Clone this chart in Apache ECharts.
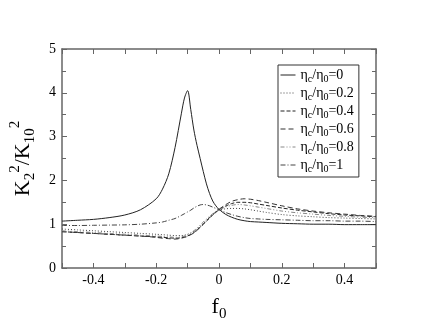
<!DOCTYPE html>
<html>
<head>
<meta charset="utf-8">
<script src="https://cdn.jsdelivr.net/npm/echarts@6/dist/echarts.min.js"></script>
<style>
  html, body { margin: 0; padding: 0; background: #fff; }
  #chart { width: 423px; height: 327px; }
</style>
</head>
<body>
<div id="chart"></div>
<script>
// f0 grid
var f0 = [-0.5, -0.45, -0.4, -0.35, -0.3, -0.25, -0.2, -0.18, -0.16, -0.14, -0.12, -0.11, -0.1, -0.09, -0.08, -0.07, -0.06, -0.05, -0.04, -0.03, -0.02, -0.01, 0, 0.02, 0.04, 0.06, 0.08, 0.1, 0.125, 0.15, 0.2, 0.25, 0.3, 0.35, 0.4, 0.45, 0.5];

// K2^2/K10^2 for each eta_c/eta_0
var eta0 = [1.07, 1.09, 1.11, 1.15, 1.21, 1.33, 1.58, 1.8, 2.15, 2.75, 3.52, 3.88, 4.05, 3.62, 3.15, 2.8, 2.5, 2.2, 1.92, 1.7, 1.53, 1.42, 1.34, 1.23, 1.16, 1.11, 1.08, 1.06, 1.05, 1.04, 1.02, 1.01, 1.0, 1.0, 0.99, 0.99, 0.99];
var eta02 = [0.89, 0.87, 0.85, 0.83, 0.81, 0.79, 0.77, 0.76, 0.75, 0.74, 0.74, 0.75, 0.77, 0.8, 0.84, 0.89, 0.95, 1.02, 1.09, 1.16, 1.22, 1.28, 1.32, 1.35, 1.36, 1.36, 1.35, 1.33, 1.3, 1.27, 1.22, 1.19, 1.17, 1.15, 1.14, 1.13, 1.12];
var eta04 = [0.83, 0.81, 0.79, 0.77, 0.75, 0.73, 0.71, 0.7, 0.69, 0.68, 0.69, 0.71, 0.73, 0.77, 0.81, 0.87, 0.93, 1.0, 1.07, 1.14, 1.21, 1.27, 1.33, 1.41, 1.47, 1.5, 1.5, 1.49, 1.46, 1.43, 1.37, 1.32, 1.28, 1.24, 1.21, 1.19, 1.17];
var eta06 = [0.83, 0.81, 0.79, 0.77, 0.75, 0.73, 0.7, 0.68, 0.67, 0.66, 0.68, 0.7, 0.72, 0.76, 0.8, 0.86, 0.93, 1.0, 1.08, 1.15, 1.22, 1.28, 1.34, 1.44, 1.52, 1.56, 1.58, 1.57, 1.54, 1.5, 1.42, 1.35, 1.3, 1.26, 1.23, 1.2, 1.18];
var eta08 = [0.85, 0.83, 0.81, 0.79, 0.77, 0.75, 0.73, 0.72, 0.71, 0.7, 0.71, 0.73, 0.76, 0.8, 0.85, 0.91, 0.98, 1.05, 1.12, 1.18, 1.24, 1.29, 1.33, 1.39, 1.43, 1.45, 1.44, 1.42, 1.39, 1.36, 1.3, 1.26, 1.23, 1.2, 1.18, 1.16, 1.15];
var eta1 = [0.97, 0.97, 0.975, 0.98, 0.985, 1.0, 1.03, 1.05, 1.09, 1.13, 1.2, 1.24, 1.28, 1.32, 1.37, 1.41, 1.44, 1.45, 1.44, 1.42, 1.39, 1.36, 1.33, 1.27, 1.22, 1.18, 1.15, 1.13, 1.12, 1.11, 1.1, 1.09, 1.08, 1.08, 1.07, 1.07, 1.06];

var etaLabels = ['0', '0.2', '0.4', '0.6', '0.8', '1'];
var curves = [eta0, eta02, eta04, eta06, eta08, eta1];
var lineTypes = ['solid', [1, 2], [4, 2], [5, 3], [4, 2, 1, 2, 1, 2], [5, 2, 1, 2]];
var lineColors = ['#222', '#444', '#222', '#333', '#888', '#444'];

var serif = 'Liberation Serif';

var series = curves.map(function (c, i) {
  return {
    name: 'eta' + etaLabels[i],
    type: 'line',
    smooth: 0.3,
    symbol: 'none',
    data: f0.map(function (x, k) { return [x, c[k]]; }),
    lineStyle: { color: lineColors[i], width: 1, type: lineTypes[i] },
    itemStyle: { color: lineColors[i] }
  };
});

var subRich = {
  a: { fontFamily: serif, fontSize: 14, color: '#000', lineHeight: 18 },
  s: { fontFamily: serif, fontSize: 10, color: '#000', lineHeight: 8, verticalAlign: 'bottom' }
};

var bigRich = {
  a: { fontFamily: serif, fontSize: 22, color: '#000', lineHeight: 30 },
  s: { fontFamily: serif, fontSize: 15, color: '#000', lineHeight: 13, verticalAlign: 'bottom' },
  p: { fontFamily: serif, fontSize: 15, color: '#000', lineHeight: 13, verticalAlign: 'top' }
};

var axisCol = '#666';

function frameAxis(extra) {
  var ax = {
    type: 'value',
    axisLine: { show: true, onZero: false, lineStyle: { color: axisCol, width: 1.5 } },
    axisTick: { inside: true, length: 5, lineStyle: { color: axisCol } },
    splitLine: { show: false }
  };
  for (var k in extra) ax[k] = extra[k];
  return ax;
}

var chart = echarts.init(document.getElementById('chart'));
chart.setOption({
  animation: false,
  backgroundColor: '#fff',
  grid: { left: 49, right: 47, top: 49, bottom: 50 },
  legend: {
    orient: 'vertical',
    left: 278,
    top: 65,
    padding: [3, 5, 3, 2],
    itemGap: 2,
    itemWidth: 15,
    itemHeight: 17,
    borderColor: '#333',
    borderWidth: 1,
    backgroundColor: '#fff',
    itemStyle: { opacity: 0, borderWidth: 0 },
    lineStyle: { width: 1 },
    data: series.map(function (s) { return s.name; }),
    formatter: function (name) {
      return '{a|η}{s|c}{a|/η}{s|0}{a|=' + name.slice(3) + '}';
    },
    textStyle: { fontFamily: serif, rich: subRich }
  },
  xAxis: [frameAxis({
    min: -0.5, max: 0.5, interval: 0.1,
    name: '{a|f}{s|0}',
    nameLocation: 'middle',
    nameGap: 24,
    nameTextStyle: { rich: bigRich },
    axisLabel: {
      margin: 5, color: '#000', fontFamily: serif, fontSize: 14,
      formatter: function (v) {
        var t = Math.round(v * 10);
        if (t % 2 !== 0) return '';
        return t === 0 ? '0' : (t / 10).toString();
      }
    }
  }), frameAxis({
    position: 'top',
    min: -0.5, max: 0.5, interval: 0.1,
    axisLabel: { show: false }
  })],
  yAxis: [frameAxis({
    min: 0, max: 5, interval: 1,
    name: '{a|K}{s|2}{p|2}{a|/K}{s|10}{p|2}',
    nameLocation: 'middle',
    nameRotate: 90,
    nameGap: 24,
    nameTextStyle: { rich: bigRich },
    minorTick: { show: true, splitNumber: 2, length: 4, lineStyle: { color: axisCol } },
    axisLabel: { margin: 6, color: '#000', fontFamily: serif, fontSize: 14 }
  }), frameAxis({
    position: 'right',
    min: 0, max: 5, interval: 1,
    minorTick: { show: true, splitNumber: 2, length: 4, lineStyle: { color: axisCol } },
    axisLabel: { show: false }
  })],
  series: series
});
</script>
</body>
</html>
